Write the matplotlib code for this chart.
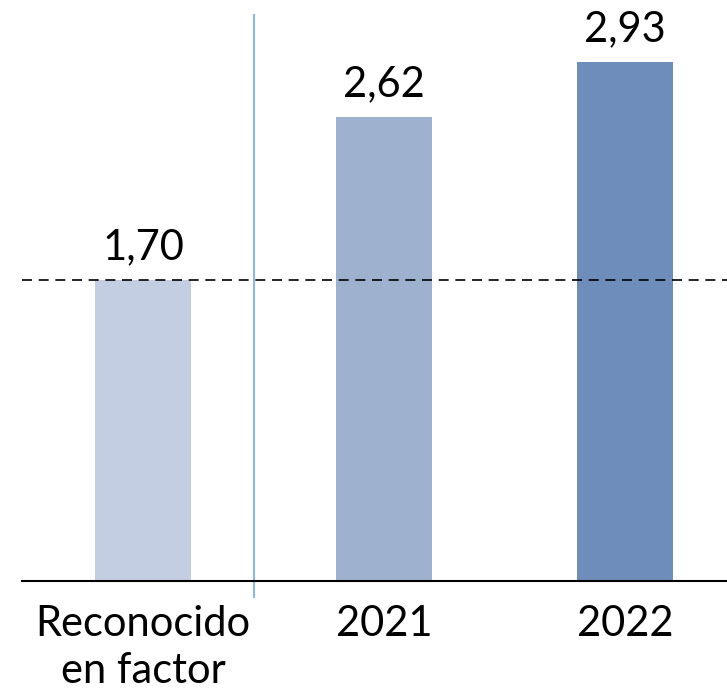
import matplotlib.pyplot as plt

categories = ['Reconocido\nen factor', '2021', '2022']
values = [1.70, 2.62, 2.93]
labels = ['1,70', '2,62', '2,93']
colors = ['#C3CEE2', '#9EB1CF', '#6E8DBA']

plt.rcParams['font.family'] = ['Lato', 'DejaVu Sans']

fig = plt.figure(figsize=(7.27, 6.92), dpi=100)
ax = fig.add_axes([22 / 727, 111 / 692, 705 / 727, 581 / 692])

x = range(len(categories))
ax.bar(x, values, width=0.4, color=colors)
for i, v in enumerate(values):
    ax.text(i, v + 0.08, labels[i], ha='center', va='bottom', fontsize=30)

ax.set_xlim(-0.502, 2.423)
ax.set_ylim(0, 3.282)

# reference line at the first value
ax.axhline(values[0], color='black', lw=1.2, ls=(0, (6, 4)))
# separator
ax.plot([0.46, 0.46], [-0.09, 3.2], color='#8AB8E8', lw=1.5, clip_on=False)

ax.set_xticks(list(x))
ax.set_xticklabels(categories, fontsize=30, linespacing=1.3)
ax.tick_params(axis='x', length=0, pad=17)
ax.set_yticks([])
for s in ['top', 'right', 'left']:
    ax.spines[s].set_visible(False)
ax.spines['bottom'].set_linewidth(1.5)

fig.savefig('out.png', dpi=100)
